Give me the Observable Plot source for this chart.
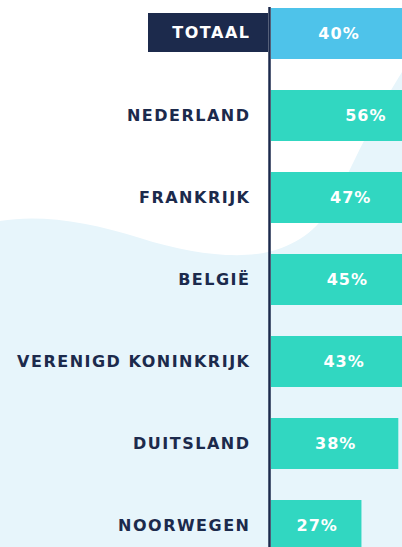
<!DOCTYPE html>
<html>
<head>
<meta charset="utf-8">
<script src="https://cdn.jsdelivr.net/npm/d3@7"></script>
<script src="https://cdn.jsdelivr.net/npm/@observablehq/plot@0.6"></script>
<style>
  html, body { margin: 0; padding: 0; width: 402px; height: 547px; overflow: hidden; background: #ffffff; }
  #wrap { position: relative; width: 402px; height: 547px; }
  #bg { position: absolute; left: 0; top: 0; }
  #chart { position: absolute; left: 0; top: 0; }
  #chart svg { overflow: hidden; }
  #chart text.cat { letter-spacing: 1.5px; }
  #chart text.pct { letter-spacing: 1px; }
</style>
</head>
<body>
<div id="wrap">
  <svg id="bg" width="402" height="547">
    <path d="M0,221 C40,214 90,222 140,238 C190,254 240,260 272,251 C300,243 320,228 335,200 C350,170 375,115 402,72 L402,547 L0,547 Z" fill="#e7f5fb"/>
  </svg>
  <div id="chart"></div>
</div>
<script>
const categories = ["TOTAAL", "NEDERLAND", "FRANKRIJK", "BELGIË", "VERENIGD KONINKRIJK", "DUITSLAND", "NOORWEGEN"];
const values = [40, 56, 47, 45, 43, 38, 27];
const totalCategory = "TOTAAL";
const subLabel = "Lorem ipsum";

const rows = categories.map((c, i) => ({category: c, value: values[i], label: `${values[i]}%`}));
const totalRows = rows.filter(d => d.category === totalCategory);
const countryRows = rows.filter(d => d.category !== totalCategory);

const navy = "#1c2a4c";
const teal = "#31d7c1";
const sky = "#4ec3ea";
const font = "'DejaVu Sans', sans-serif";

const chart = Plot.plot({
  width: 402,
  height: 547,
  marginTop: 0, marginBottom: 0, marginLeft: 0, marginRight: 0,
  style: {background: "transparent", fontFamily: font},
  x: {domain: [0, 100], range: [271, 271 + 335], axis: null},
  y: {domain: categories, range: [7, 552.4], paddingInner: 0.375, paddingOuter: 0, axis: null},
  marks: [
    Plot.barX(rows, {y: "category", x: "value", fill: d => d.category === totalCategory ? sky : teal}),
    Plot.barX(totalRows, {y: "category", x1: 0, x2: 0, insetLeft: -123, insetRight: 3, insetTop: 5, insetBottom: 7, fill: navy}),
    Plot.ruleX([0], {stroke: navy, strokeWidth: 2.5, dx: -2, insetTop: 7}),
    Plot.text(totalRows, {y: "category", x: 0, dx: -4, dy: -18, text: () => subLabel, textAnchor: "end", fontSize: 5, fill: navy}),
    Plot.text(countryRows, {y: "category", x: 0, dx: -21, text: "category", textAnchor: "end", fontSize: 16, fontWeight: "bold", fill: navy}),
    Plot.text(totalRows, {y: "category", x: 0, dx: -21, dy: -1, text: "category", textAnchor: "end", fontSize: 16, fontWeight: "bold", fill: "#ffffff"}),
    Plot.text(rows, {y: "category", x: d => d.value / 2, dx: 0.5, text: "label", fontSize: 16, fontWeight: "bold", fill: "#ffffff"})
  ]
});
document.getElementById("chart").append(chart);
// letter spacing classes for the label groups
chart.querySelectorAll("g[aria-label='text']").forEach((g, i) => {
  g.querySelectorAll("text").forEach(t => t.classList.add(i >= 1 && i <= 2 ? "cat" : (i === 3 ? "pct" : "tiny")));
});
</script>
</body>
</html>
